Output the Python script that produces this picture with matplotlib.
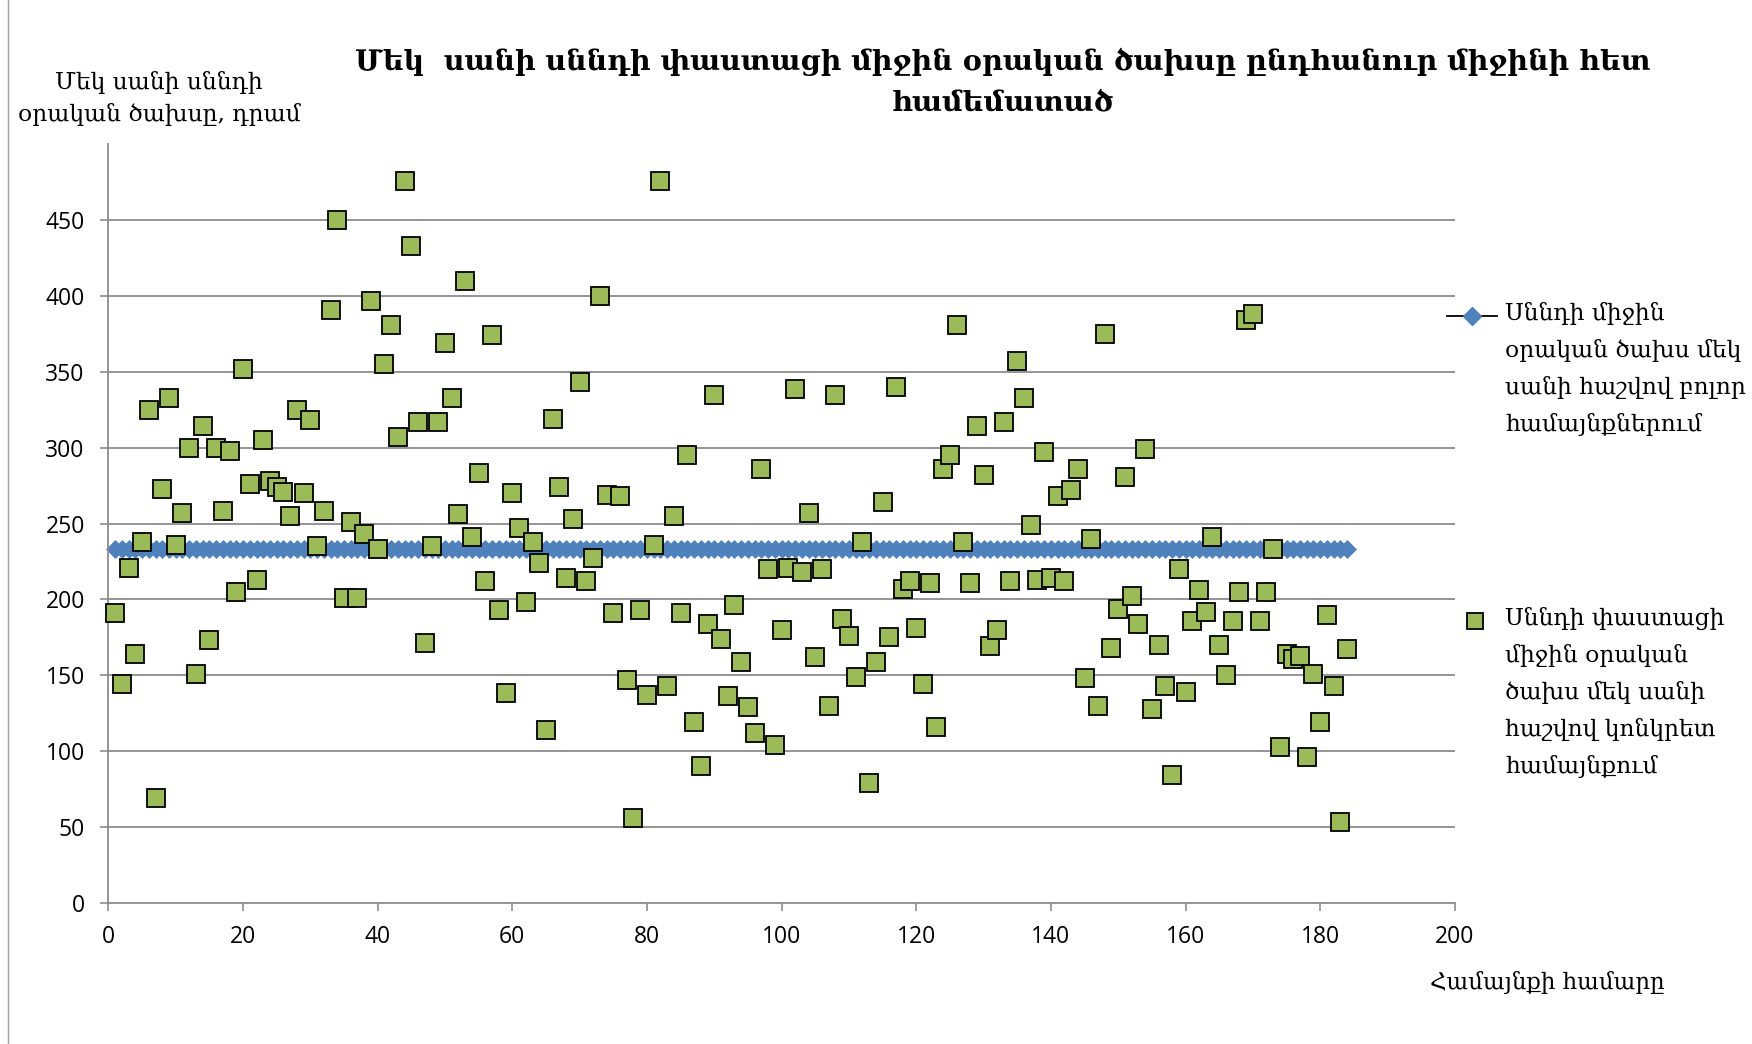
import matplotlib
matplotlib.use("Agg")
import matplotlib.pyplot as plt
from matplotlib.lines import Line2D
import numpy as np

# ---- data ----
community_ids = list(range(1, 185))
actual_cost = [
    191, 144, 221, 164, 238, 325, 69, 273, 333, 236,
    257, 300, 151, 314, 173, 300, 258, 298, 205, 352,
    276, 213, 305, 278, 274, 271, 255, 325, 270, 318,
    235, 258, 391, 450, 201, 251, 201, 243, 397, 233,
    355, 381, 307, 476, 433, 317, 171, 235, 317, 369,
    333, 256, 410, 241, 283, 212, 374, 193, 138, 270,
    247, 198, 238, 224, 114, 319, 274, 214, 253, 343,
    212, 227, 400, 269, 191, 268, 147, 56, 193, 137,
    236, 476, 143, 255, 191, 295, 119, 90, 184, 335,
    174, 136, 196, 159, 129, 112, 286, 220, 104, 180,
    221, 339, 218, 257, 162, 220, 130, 335, 187, 176,
    149, 238, 79, 159, 264, 175, 340, 207, 212, 181,
    144, 211, 116, 286, 295, 381, 238, 211, 314, 282,
    169, 180, 317, 212, 357, 333, 249, 213, 297, 214,
    268, 212, 272, 286, 148, 240, 130, 375, 168, 194,
    281, 202, 184, 299, 128, 170, 143, 84, 220, 139,
    186, 206, 192, 241, 170, 150, 186, 205, 384, 388,
    186, 205, 233, 103, 164, 161, 163, 96, 151, 119,
    190, 143, 53, 167,
]
mean_value = 233
mean_cost = [mean_value] * len(community_ids)

title_text = "Մեկ  սանի սննդի փաստացի միջին օրական ծախսը ընդհանուր միջինի հետ\nհամեմատած"
ylabel_text = "Մեկ սանի սննդի\nօրական ծախսը, դրամ"
xlabel_text = "Համայնքի համարը"
legend_mean = "Սննդի միջին\nօրական ծախս մեկ\nսանի հաշվով բոլոր\nհամայնքներում"
legend_actual = "Սննդի փաստացի\nմիջին օրական\nծախս մեկ սանի\nհաշվով կոնկրետ\nհամայնքում"
x_ticks = list(range(0, 201, 20))
y_ticks = list(range(0, 451, 50))

# ---- style ----
W, H = 1752, 1044
ARM = ["DejaVu Serif", "DejaVu Sans"]
NUM = ["Open Sans", "DejaVu Sans"]
BLUE = "#4F81BD"
GREEN = "#9BBB59"
GRID = "#8C8C8C"

fig = plt.figure(figsize=(W / 100, H / 100), dpi=100)
fig.patch.set_facecolor("white")

def fx(px):
    return px / W

def fy(py):
    return 1 - py / H

ax_left, ax_right = 108.4, 1454.8
ax_bottom, ax_top = 902.8, 144.3
ax = fig.add_axes([fx(ax_left), fy(ax_bottom), fx(ax_right - ax_left), (ax_bottom - ax_top) / H])

ax.set_xlim(0, 200)
ax.set_ylim(0, 500)
ax.set_xticks(x_ticks)
ax.set_yticks(y_ticks)
for yv in y_ticks[1:]:
    ax.axhline(yv, color=GRID, lw=1.3, zorder=1)

ax.plot(community_ids, mean_cost, color="black", lw=1.0, marker="D",
        markersize=9, markerfacecolor=BLUE, markeredgecolor=BLUE,
        markeredgewidth=0.5, zorder=2, clip_on=False)
ax.plot(community_ids, actual_cost, linestyle="none", marker="s",
        markersize=13.5, markerfacecolor=GREEN, markeredgecolor="black",
        markeredgewidth=1.3, zorder=3, clip_on=False)

for s in ["top", "right"]:
    ax.spines[s].set_visible(False)
for s in ["left", "bottom"]:
    ax.spines[s].set_color(GRID)
    ax.spines[s].set_linewidth(1.3)

ax.tick_params(axis="both", colors=GRID, direction="out", length=6, width=1.2)
ax.tick_params(axis="x", pad=10)
ax.tick_params(axis="y", pad=11)
for lab in ax.get_xticklabels() + ax.get_yticklabels():
    lab.set_fontfamily(NUM)
    lab.set_fontsize(16.5)
    lab.set_color("black")

# title
fig.text(fx(1003), fy(82), title_text, ha="center", va="center",
         fontsize=20.5, fontweight="bold", family=ARM, linespacing=1.62)
# y-axis label
fig.text(fx(159), fy(99), ylabel_text, ha="center", va="center",
         fontsize=16.8, family=ARM, linespacing=1.5)
# x-axis label
fig.text(fx(1547), fy(983), xlabel_text, ha="center", va="center",
         fontsize=16.5, family=ARM)

# legend (manual)
fig.add_artist(Line2D([fx(1447), fx(1497)], [fy(316), fy(316)], color="black", lw=1.3))
fig.add_artist(Line2D([fx(1472)], [fy(316)], marker="D", markersize=9,
                      markerfacecolor=BLUE, markeredgecolor=BLUE, linestyle="none"))
fig.text(fx(1505), fy(302), legend_mean, ha="left", va="top",
         fontsize=16.8, family=ARM, linespacing=1.78)
fig.add_artist(Line2D([fx(1475)], [fy(621)], marker="s", markersize=12,
                      markerfacecolor=GREEN, markeredgecolor="black",
                      markeredgewidth=1.3, linestyle="none"))
fig.text(fx(1505), fy(607), legend_actual, ha="left", va="top",
         fontsize=16.8, family=ARM, linespacing=1.78)

# chart border (left edge)
fig.add_artist(Line2D([fx(8), fx(8)], [0, 1], color="#A0A0A0", lw=1.0))

fig.savefig("out.png", dpi=100)
